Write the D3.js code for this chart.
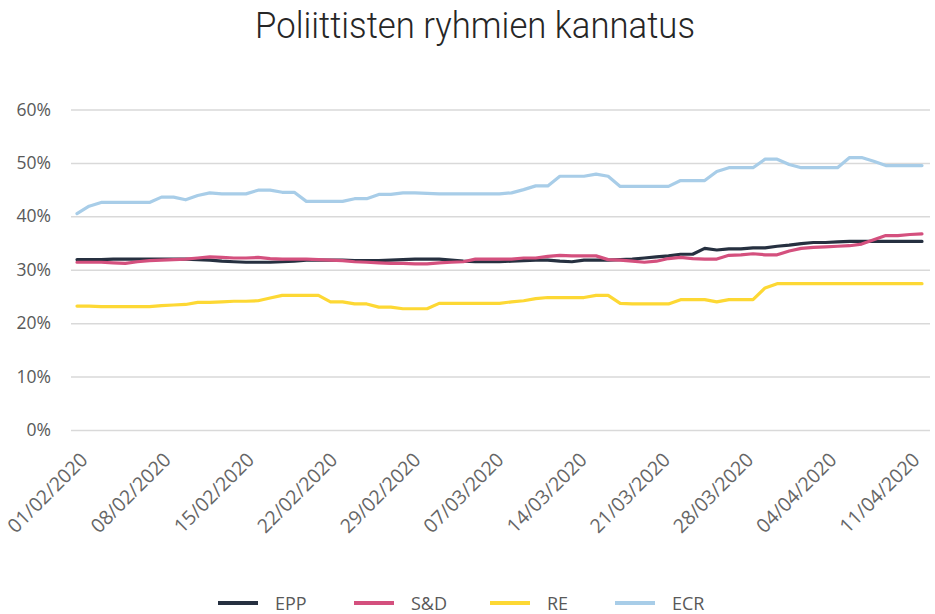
<!DOCTYPE html>
<html>
<head>
<meta charset="utf-8">
<script src="https://cdn.jsdelivr.net/npm/d3@7"></script>
<style>
  html, body { margin: 0; padding: 0; background: #fff; }
  svg { display: block; }
</style>
</head>
<body>
<svg id="chart" width="935" height="614"></svg>
<script>
const title = "Poliittisten ryhmien kannatus";
const startDate = "2020-02-01";
const dayCount = 71;
const tickEvery = 7;
const yTicks = [0, 0.1, 0.2, 0.3, 0.4, 0.5, 0.6];

const seriesNames = ["EPP", "S&D", "RE", "ECR"];
const seriesColors = ["#263040", "#d4507e", "#fdd834", "#a8cde8"];

const epp = [31.9,31.9,31.9,32.0,32.0,32.0,32.0,32.0,32.0,32.0,31.9,31.8,31.6,31.5,31.4,31.4,31.4,31.5,31.6,31.8,31.8,31.8,31.8,31.7,31.7,31.7,31.8,31.9,32.0,32.0,32.0,31.8,31.6,31.5,31.5,31.5,31.6,31.7,31.8,31.8,31.6,31.5,31.8,31.8,31.8,31.9,32.0,32.2,32.4,32.6,32.9,32.9,34.0,33.7,33.9,33.9,34.1,34.1,34.4,34.6,34.9,35.1,35.1,35.2,35.3,35.3,35.3,35.3,35.3,35.3,35.3];
const sd = [31.4,31.4,31.4,31.3,31.2,31.5,31.7,31.8,31.9,32.0,32.2,32.4,32.3,32.2,32.2,32.3,32.1,32.0,32.0,32.0,31.9,31.8,31.7,31.5,31.4,31.3,31.2,31.2,31.1,31.1,31.3,31.4,31.5,32.0,32.0,32.0,32.0,32.2,32.2,32.5,32.7,32.6,32.6,32.6,31.9,31.8,31.6,31.4,31.6,32.1,32.3,32.1,32.0,32.0,32.7,32.8,33.0,32.8,32.8,33.5,34.0,34.2,34.3,34.4,34.5,34.8,35.6,36.4,36.4,36.6,36.7];
const re = [23.2,23.2,23.1,23.1,23.1,23.1,23.1,23.3,23.4,23.5,23.9,23.9,24.0,24.1,24.1,24.2,24.7,25.2,25.2,25.2,25.2,24.0,24.0,23.6,23.6,23.0,23.0,22.7,22.7,22.7,23.7,23.7,23.7,23.7,23.7,23.7,24.0,24.2,24.6,24.8,24.8,24.8,24.8,25.2,25.2,23.7,23.6,23.6,23.6,23.6,24.4,24.4,24.4,24.0,24.4,24.4,24.4,26.6,27.4,27.4,27.4,27.4,27.4,27.4,27.4,27.4,27.4,27.4,27.4,27.4,27.4];
const ecr = [40.5,41.9,42.6,42.6,42.6,42.6,42.6,43.6,43.6,43.1,43.9,44.4,44.2,44.2,44.2,44.9,44.9,44.5,44.5,42.8,42.8,42.8,42.8,43.3,43.3,44.1,44.1,44.4,44.4,44.3,44.2,44.2,44.2,44.2,44.2,44.2,44.4,45.0,45.7,45.7,47.5,47.5,47.5,47.9,47.5,45.6,45.6,45.6,45.6,45.6,46.7,46.7,46.7,48.4,49.1,49.1,49.1,50.7,50.7,49.7,49.1,49.1,49.1,49.1,51.0,51.0,50.3,49.5,49.5,49.5,49.5];

const seriesValues = [epp, sd, re, ecr];

const parse = d3.timeParse("%Y-%m-%d");
const fmt = d3.timeFormat("%d/%m/%Y");
const d0 = parse(startDate);
const dates = d3.range(dayCount).map(i => d3.timeDay.offset(d0, i));

const svg = d3.select("#chart");
const W = 935, H = 614;
const plot = { left: 71, right: 930, top: 100, bottom: 430 };

const x = d3.scalePoint().domain(d3.range(dayCount)).range([77, 922]);
const xLabel = d3.scalePoint().domain(d3.range(dayCount)).range([86, 918]);
const y = d3.scaleLinear().domain([0, 0.6]).range([430, 109.5]);

const labelFont = "'Open Sans', 'DejaVu Sans', sans-serif";

// Title
const t = svg.append("text")
  .attr("text-anchor", "middle")
  .attr("font-family", "Roboto, 'Open Sans', sans-serif")
  .attr("font-weight", 300)
  .attr("font-size", 36)
  .attr("fill", "#262626")
  .text(title);
const tw = t.node().getComputedTextLength();
const sx = 440 / tw;
t.attr("transform", `translate(${475},${38}) scale(${sx},1)`);

// Gridlines + y axis
const yAxis = d3.axisLeft(y)
  .tickValues(yTicks)
  .tickFormat(d3.format(".0%"))
  .tickSize(-(plot.right - plot.left))
  .tickPadding(20);

const gy = svg.append("g")
  .attr("transform", `translate(${plot.left},0)`)
  .call(yAxis);
gy.select(".domain").remove();
gy.selectAll(".tick line").attr("stroke", "#d9d9d9").attr("stroke-width", 1.5);
gy.selectAll(".tick text")
  .attr("fill", "#595959")
  .attr("font-family", labelFont)
  .attr("font-size", 17.5);

// X axis labels
const tickIdx = d3.range(0, dayCount, tickEvery);
const xAxis = d3.axisBottom(x)
  .tickValues(tickIdx)
  .tickFormat(i => fmt(dates[i]))
  .tickSize(0)
  .tickPadding(0);
const gx = svg.append("g")
  .attr("transform", `translate(0,${plot.bottom})`)
  .call(xAxis);
gx.select(".domain").remove();
gx.selectAll(".tick").attr("transform", i => `translate(${xLabel(i)},0)`);
gx.selectAll(".tick text")
  .attr("fill", "#666666")
  .attr("font-family", labelFont)
  .attr("font-size", 19.5)
  .attr("text-anchor", "end")
  .attr("dy", 0)
  .attr("y", 0)
  .attr("transform", "translate(3,31) rotate(-45)");

// Lines
const line = d3.line()
  .x((d, i) => x(i))
  .y(d => y(d / 100));

seriesValues.forEach((vals, k) => {
  svg.append("path")
    .datum(vals)
    .attr("fill", "none")
    .attr("stroke", seriesColors[k])
    .attr("stroke-width", 3.2)
    .attr("stroke-linejoin", "round")
    .attr("stroke-linecap", "round")
    .attr("d", line);
});

// Legend
const legendX = [218, 354, 490, 615];
const lg = svg.append("g");
seriesNames.forEach((name, k) => {
  const g = lg.append("g").attr("transform", `translate(${legendX[k]},603)`);
  g.append("line")
    .attr("x1", 0).attr("x2", 40).attr("y1", 0).attr("y2", 0)
    .attr("stroke", seriesColors[k]).attr("stroke-width", 4);
  g.append("text")
    .attr("x", 57).attr("y", 6.5)
    .attr("fill", "#595959")
    .attr("font-family", labelFont)
    .attr("font-size", 18)
    .text(name);
});
</script>
</body>
</html>
